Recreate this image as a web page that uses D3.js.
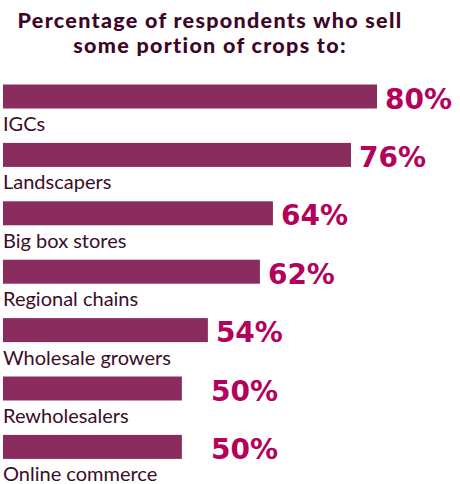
<!DOCTYPE html>
<html>
<head>
<meta charset="utf-8">
<script src="https://cdn.jsdelivr.net/npm/d3@7"></script>
<style>
  html, body { margin: 0; padding: 0; background: #ffffff; }
  svg { display: block; }
</style>
</head>
<body>
<div id="chart"></div>
<script>
// Share of respondents selling some portion of crops to each channel
const categories = ["IGCs", "Landscapers", "Big box stores", "Regional chains",
                    "Wholesale growers", "Rewholesalers", "Online commerce"];
const values = [80, 76, 64, 62, 54, 50, 50];
const titleLines = ["Percentage of respondents who sell", "some portion of crops to:"];

const W = 460, H = 484;
const svg = d3.select("#chart").append("svg")
  .attr("width", W).attr("height", H);

// Two-line title, centred
svg.append("g").selectAll("text")
  .data(titleLines).join("text")
  .attr("x", 210)
  .attr("y", (d, i) => 28 + i * 25)
  .attr("text-anchor", "middle")
  .style("font-family", "Lato, sans-serif")
  .style("font-weight", 900)
  .style("font-size", "21.5px")
  .style("letter-spacing", "1.3px")
  .style("fill", "#3d0627")
  .text(d => d);

// Rows: each row holds a bar with its category label underneath
const rowStep = 58.4;
const y = d3.scaleBand()
  .domain(categories)
  .range([131.5 - 47, 131.5 - 47 + rowStep * categories.length])
  .paddingInner(0).paddingOuter(0);

const x = d3.scaleLinear().domain([22.5, 80]).range([0, 374]);
const left = 3, barH = 24;

const rows = svg.append("g").selectAll("g")
  .data(categories.map((c, i) => ({ cat: c, val: values[i] })))
  .join("g")
  .attr("transform", d => `translate(0,${y(d.cat)})`);

rows.append("rect")
  .attr("x", left)
  .attr("y", 0)
  .attr("width", d => x(d.val))
  .attr("height", barH)
  .attr("fill", "#8a2d5e");

rows.append("text")
  .attr("x", d => Math.max(left + x(d.val) + 8, 211))
  .attr("y", barH)
  .style("font-family", "'DejaVu Sans', sans-serif")
  .style("font-weight", 700)
  .style("font-size", "28px")
  .style("fill", "#b3025c")
  .text(d => d.val + "%");

rows.append("text")
  .attr("x", left)
  .attr("y", 46.5)
  .style("font-family", "Lato, sans-serif")
  .style("font-weight", 400)
  .style("font-size", "20px")
  .style("fill", "#3b0d28")
  .text(d => d.cat);
</script>
</body>
</html>
